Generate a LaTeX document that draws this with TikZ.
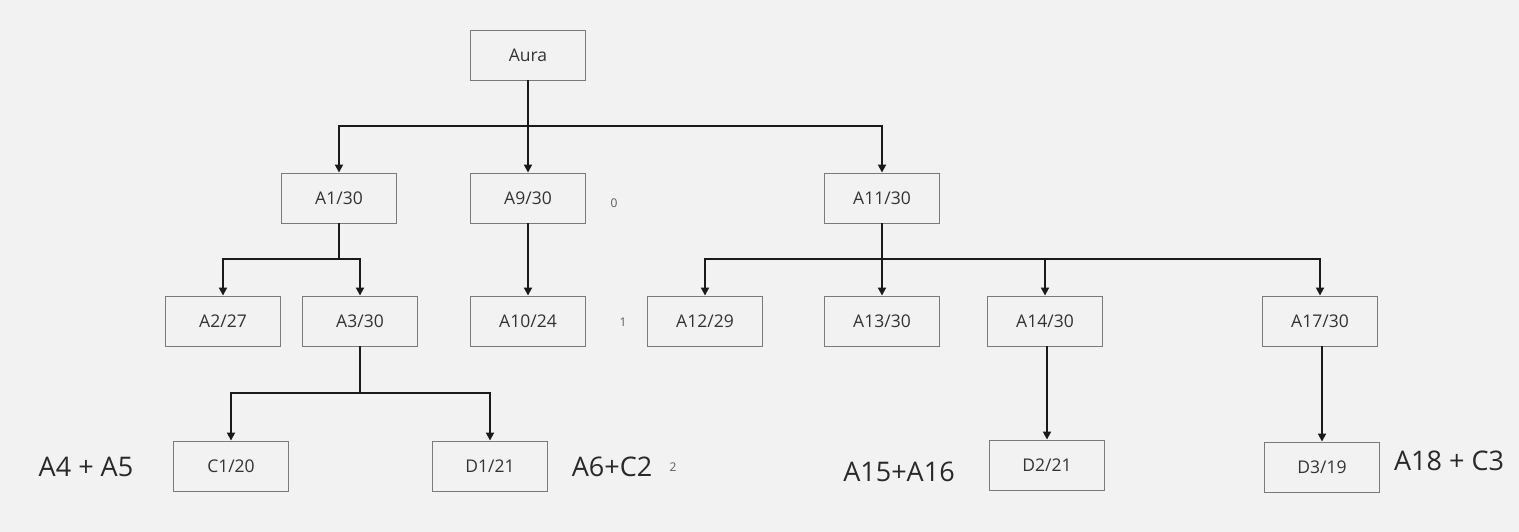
\documentclass[tikz,border=0pt]{standalone}
\usepackage{fontspec}
\setmainfont{Open Sans}
\usetikzlibrary{arrows.meta}
\definecolor{bg}{HTML}{F2F2F2}
\definecolor{boxline}{HTML}{7A7A7A}
\definecolor{txt}{HTML}{333333}
\definecolor{wire}{HTML}{1A1A1A}
\begin{document}
\begin{tikzpicture}[x=1pt,y=-1pt,
  box/.style={draw=boxline,line width=0.9pt,fill=bg,minimum width=115pt,minimum height=50pt,inner sep=0pt,text=txt,font=\fontsize{17.5}{20}\selectfont},
  wireline/.style={draw=wire,line width=1.8pt},
  arr/.style={wireline,-{Triangle[length=8pt,width=8pt]}},
  big/.style={text=txt!80!black,font=\fontsize{27}{30}\selectfont,inner sep=0pt},
  tiny/.style={text=txt!80,font=\fontsize{12}{14}\selectfont,inner sep=0pt}]
\fill[bg] (0,0) rectangle (1519,532);
\useasboundingbox (0,0) rectangle (1519,532);
% nodes
\node[box] (aura) at (528,55) {Aura};
\node[box] (a1) at (339,198) {A1/30};
\node[box] (a9) at (528,198) {A9/30};
\node[box] (a11) at (882,198) {A11/30};
\node[box] (a2) at (223,321) {A2/27};
\node[box] (a3) at (360,321) {A3/30};
\node[box] (a10) at (528,321) {A10/24};
\node[box] (a12) at (705,321) {A12/29};
\node[box] (a13) at (882,321) {A13/30};
\node[box] (a14) at (1045,321) {A14/30};
\node[box] (a17) at (1320,321) {A17/30};
\node[box] (c1) at (231,466) {C1/20};
\node[box] (d1) at (490,466) {D1/21};
\node[box] (d2) at (1047,465) {D2/21};
\node[box] (d3) at (1322,467) {D3/19};
% labels
\node[tiny] (t0) at (614,203) {0};
\node[tiny] (t1) at (623,322) {1};
\node[tiny] (t2) at (673,467) {2};
\node[big] (l1) at (86,467) {A4 + A5};
\node[big] (l2) at (612,467) {A6+C2};
\node[big] (l3) at (899,472) {A15+A16};
\node[big] (l4) at (1449,461) {A18 + C3};
% bus coordinates
\coordinate (b0) at (528,126);
\coordinate (b1) at (339,259);
\coordinate (b2) at (882,259);
\coordinate (b3) at (360,393);
% connectors
\draw[wireline] (aura.south) -- (b0);
\draw[arr] (b0) -| (a1.north);
\draw[arr] (b0) -- (a9.north);
\draw[arr] (b0) -| (a11.north);
\draw[wireline] (a1.south) -- (b1);
\draw[arr] (b1) -| (a2.north);
\draw[arr] (b1) -| (a3.north);
\draw[arr] (a9.south) -- (a10.north);
\draw[wireline] (a11.south) -- (b2);
\draw[arr] (b2) -| (a12.north);
\draw[arr] (b2) -- (a13.north);
\draw[arr] (b2) -| (a14.north);
\draw[arr] (b2) -| (a17.north);
\draw[wireline] (a3.south) -- (b3);
\draw[arr] (b3) -| (c1.north);
\draw[arr] (b3) -| (d1.north);
\draw[arr] (a14.south -| d2.north) -- (d2.north);
\draw[arr] (a17.south -| d3.north) -- (d3.north);
\end{tikzpicture}
\end{document}
